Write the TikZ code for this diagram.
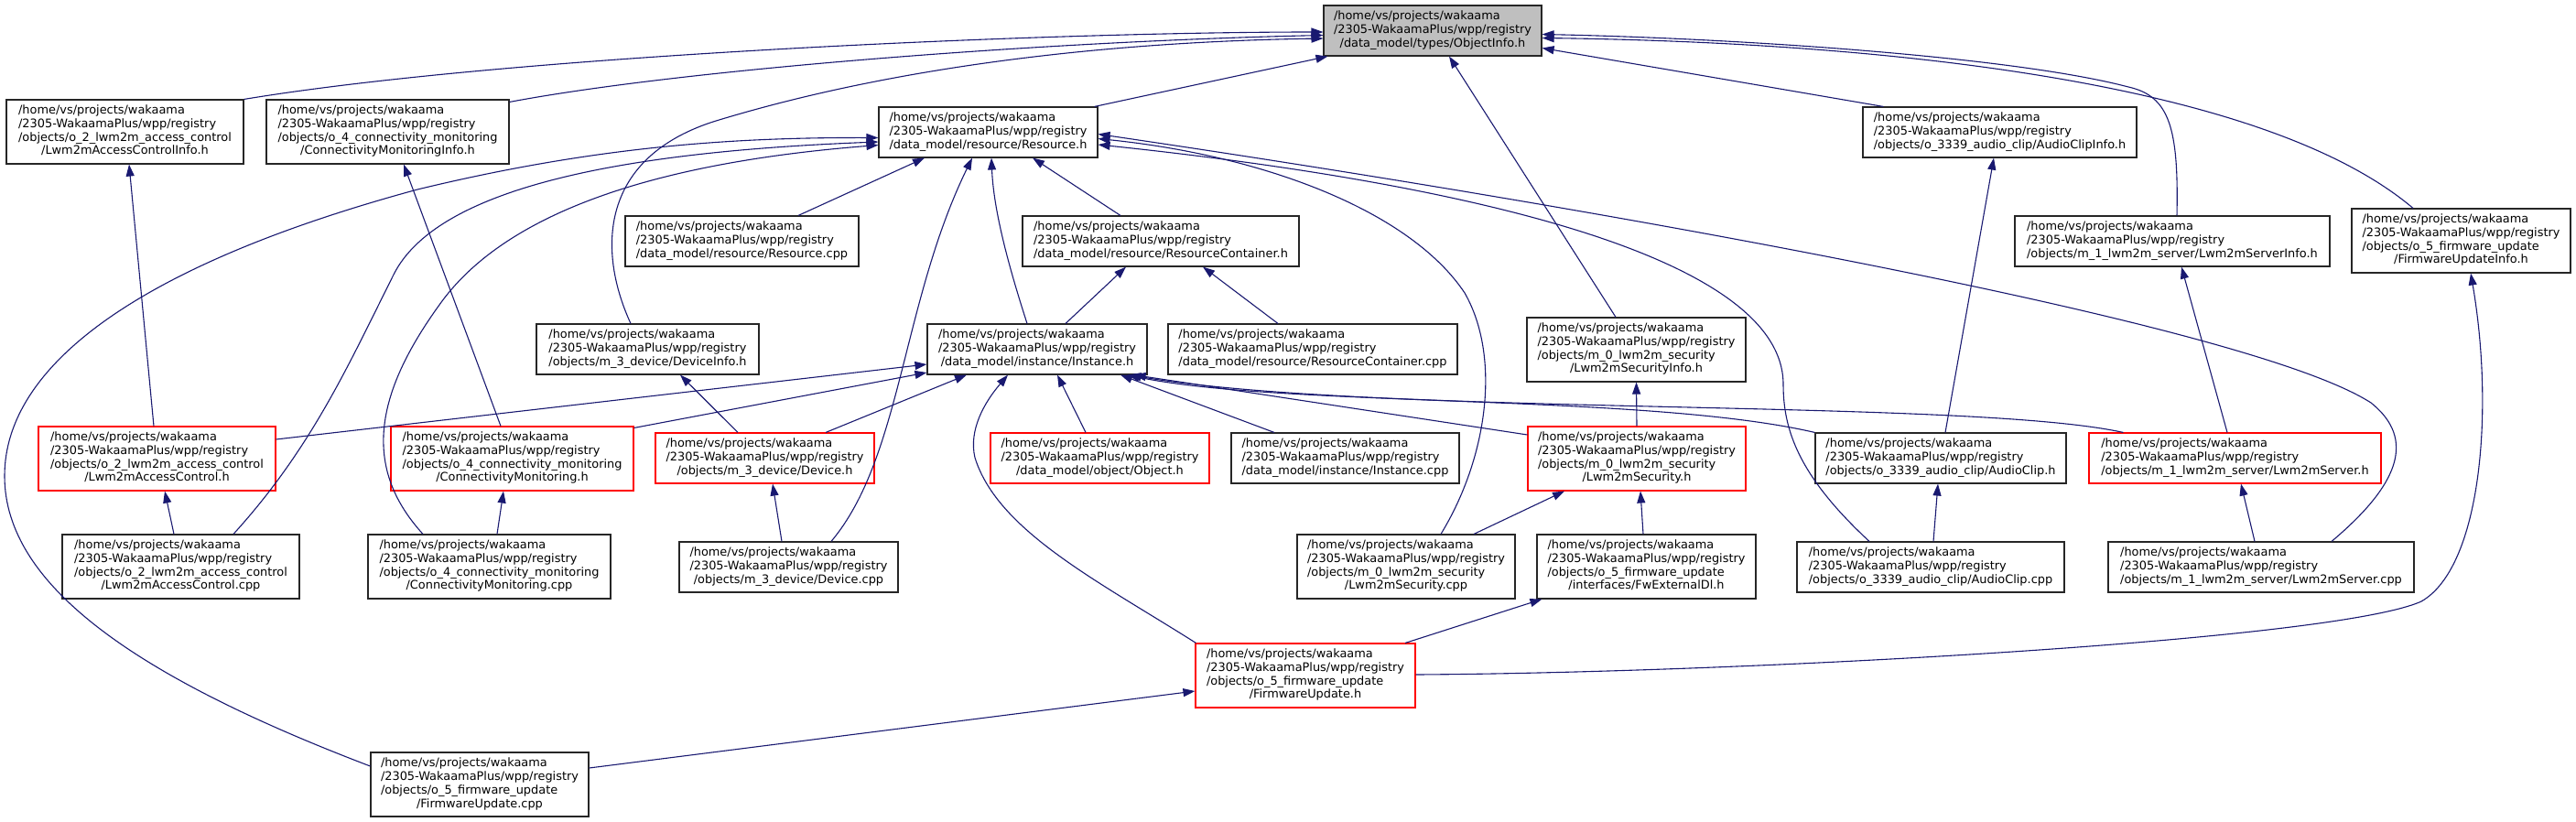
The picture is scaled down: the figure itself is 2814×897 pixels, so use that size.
\documentclass[tikz,border=0pt]{standalone}
\usepackage{fontspec}
\setmainfont{DejaVu Sans}
\usepackage{tikz}
\usetikzlibrary{arrows.meta}
\definecolor{edgeblue}{HTML}{191970}
\definecolor{boxgray}{HTML}{BFBFBF}
\newcommand{\fpath}[1]{\begin{tabular}{@{}l@{}}/home/vs/projects/wakaama\\/2305-WakaamaPlus/wpp/registry\\\multicolumn{1}{@{}c@{}}{#1}\end{tabular}}
\newcommand{\fpathx}[2]{\begin{tabular}{@{}l@{}}/home/vs/projects/wakaama\\/2305-WakaamaPlus/wpp/registry\\#1\\\multicolumn{1}{@{}c@{}}{#2}\end{tabular}}

\begin{document}
\begin{tikzpicture}[x=1pt, y=-1pt,
  file/.style={draw=black!85, fill=white, line width=1.1pt, inner sep=0pt,
               minimum height=55pt, font=\fontsize{12.9}{14.7}\selectfont},
  tall/.style={minimum height=70pt},
  inred/.style={file, draw=red},
  focus/.style={file, fill=boxgray},
  incl/.style={-{Triangle[length=13pt, width=9pt]}, edgeblue, line width=1.1pt}
]
\useasboundingbox (0,0) rectangle (2814,897);

\node[focus, minimum width=238pt] (objinfo) at (1565,33.5) {\fpath{/data\_model/types/ObjectInfo.h}};
\node[file, tall, minimum width=259pt] (accinfo) at (136.5,144) {\fpathx{/objects/o\_2\_lwm2m\_access\_control}{/Lwm2mAccessControlInfo.h}};
\node[file, tall, minimum width=265pt] (conninfo) at (423.5,144) {\fpathx{/objects/o\_4\_connectivity\_monitoring}{/ConnectivityMonitoringInfo.h}};
\node[file, minimum width=239pt] (res) at (1079.5,144.5) {\fpath{/data\_model/resource/Resource.h}};
\node[file, minimum width=299pt] (audioinfo) at (2184.5,144.5) {\fpath{/objects/o\_3339\_audio\_clip/AudioClipInfo.h}};
\node[file, minimum width=255pt] (rescpp) at (810.5,263.5) {\fpath{/data\_model/resource/Resource.cpp}};
\node[file, minimum width=302pt] (rescont) at (1268,263.5) {\fpath{/data\_model/resource/ResourceContainer.h}};
\node[file, minimum width=344pt] (srvinfo) at (2373,263.5) {\fpath{/objects/m\_1\_lwm2m\_server/Lwm2mServerInfo.h}};
\node[file, tall, minimum width=239pt] (fwinfo) at (2688.5,263) {\fpathx{/objects/o\_5\_firmware\_update}{/FirmwareUpdateInfo.h}};
\node[file, minimum width=243pt] (devinfo) at (707.5,381.5) {\fpath{/objects/m\_3\_device/DeviceInfo.h}};
\node[file, minimum width=240pt] (inst) at (1133,381.5) {\fpath{/data\_model/instance/Instance.h}};
\node[file, minimum width=316pt] (rescontcpp) at (1434,381.5) {\fpath{/data\_model/resource/ResourceContainer.cpp}};
\node[file, tall, minimum width=239pt] (secinfo) at (1787.5,382) {\fpathx{/objects/m\_0\_lwm2m\_security}{/Lwm2mSecurityInfo.h}};
\node[inred, tall, minimum width=259pt] (acc) at (171.5,501) {\fpathx{/objects/o\_2\_lwm2m\_access\_control}{/Lwm2mAccessControl.h}};
\node[inred, tall, minimum width=265pt] (conn) at (559.5,501) {\fpathx{/objects/o\_4\_connectivity\_monitoring}{/ConnectivityMonitoring.h}};
\node[inred, minimum width=239pt] (dev) at (835.5,500.5) {\fpath{/objects/m\_3\_device/Device.h}};
\node[inred, minimum width=239pt] (obj) at (1201.5,500.5) {\fpath{/data\_model/object/Object.h}};
\node[file, minimum width=249pt] (instcpp) at (1469.5,500.5) {\fpath{/data\_model/instance/Instance.cpp}};
\node[inred, tall, minimum width=238pt] (sec) at (1788,501) {\fpathx{/objects/m\_0\_lwm2m\_security}{/Lwm2mSecurity.h}};
\node[file, minimum width=274pt] (audio) at (2120,500.5) {\fpath{/objects/o\_3339\_audio\_clip/AudioClip.h}};
\node[inred, minimum width=319pt] (srv) at (2441.5,500.5) {\fpath{/objects/m\_1\_lwm2m\_server/Lwm2mServer.h}};
\node[file, tall, minimum width=259pt] (acccpp) at (197.5,619) {\fpathx{/objects/o\_2\_lwm2m\_access\_control}{/Lwm2mAccessControl.cpp}};
\node[file, tall, minimum width=265pt] (conncpp) at (534.5,619) {\fpathx{/objects/o\_4\_connectivity\_monitoring}{/ConnectivityMonitoring.cpp}};
\node[file, minimum width=239pt] (devcpp) at (861.5,619.5) {\fpath{/objects/m\_3\_device/Device.cpp}};
\node[file, tall, minimum width=238pt] (seccpp) at (1536,619) {\fpathx{/objects/m\_0\_lwm2m\_security}{/Lwm2mSecurity.cpp}};
\node[file, tall, minimum width=239pt] (fwext) at (1798.5,619) {\fpathx{/objects/o\_5\_firmware\_update}{/interfaces/FwExternalDl.h}};
\node[file, minimum width=292pt] (audiocpp) at (2109,619.5) {\fpath{/objects/o\_3339\_audio\_clip/AudioClip.cpp}};
\node[file, minimum width=334pt] (srvcpp) at (2470,619.5) {\fpath{/objects/m\_1\_lwm2m\_server/Lwm2mServer.cpp}};
\node[inred, tall, minimum width=240pt] (fw) at (1426,738) {\fpathx{/objects/o\_5\_firmware\_update}{/FirmwareUpdate.h}};
\node[file, tall, minimum width=238pt] (fwcpp) at (524,857) {\fpathx{/objects/o\_5\_firmware\_update}{/FirmwareUpdate.cpp}};

% into ObjectInfo.h
\draw[incl] (accinfo.north east) .. controls (560,60) and (1150,35) .. ([yshift=-1.5pt]objinfo.west);
\draw[incl] ([yshift=-3pt]conninfo.north east) .. controls (750,75) and (1150,45) .. ([yshift=-5pt]objinfo.west);
\draw[incl] ([xshift=-18.5pt]devinfo.north) .. controls (655,280) and (650,175) .. (779,133) .. controls (1000,65) and (1250,45) .. ([yshift=-8.5pt]objinfo.west);
\draw[incl] ([xshift=-4pt]res.north east) -- ([xshift=5pt]objinfo.south west);
\draw[incl] ([xshift=-22.5pt]secinfo.north) -- ([xshift=18pt]objinfo.south);
\draw[incl] ([xshift=23pt]audioinfo.north west) -- ([yshift=-19pt]objinfo.east);
\draw[incl] ([xshift=5pt]srvinfo.north) .. controls (2380,140) and (2370,105) .. (2325,95) .. controls (2200,62) and (1900,42) .. ([yshift=-4pt]objinfo.east);
\draw[incl] ([xshift=-52.5pt]fwinfo.north) .. controls (2450,70) and (1950,45) .. ([yshift=-8pt]objinfo.east);

% into Resource.h
\draw[incl] ([xshift=61.5pt]rescpp.north) -- ([xshift=-69.5pt]res.south);
\draw[incl] ([xshift=-44pt]rescont.north) -- ([xshift=48.5pt]res.south);
\draw[incl] ([xshift=-11pt]inst.north) .. controls (1095,270) and (1085,220) .. ([xshift=3.5pt]res.south);
\draw[incl] ([xshift=46.5pt]devcpp.north) .. controls (985,500) and (985,330) .. ([xshift=-17.5pt]res.south);
\draw[incl] ([xshift=57.5pt]acccpp.north) .. controls (340,490) and (380,400) .. (430,300) .. controls (480,200) and (700,165) .. ([yshift=-10.5pt]res.west);
\draw[incl] ([xshift=-72.5pt]conncpp.north) .. controls (395,510) and (410,430) .. (480,333) .. controls (560,220) and (750,175) .. ([yshift=-14pt]res.west);
\draw[incl] ([yshift=20pt]fwcpp.west) .. controls (150,740) and (5,640) .. (5,520) .. controls (5,400) and (150,290) .. (456,207) .. controls (650,160) and (800,150) .. ([yshift=-6pt]res.west);
\draw[incl] ([xshift=38pt]seccpp.north) .. controls (1625,500) and (1640,390) .. (1600,320) .. controls (1540,230) and (1380,170) .. ([yshift=-7pt]res.east);
\draw[incl] ([xshift=-67pt]audiocpp.north) .. controls (1965,520) and (1948,470) .. (1948,420) .. controls (1948,280) and (1600,200) .. ([yshift=-13.5pt]res.east);
\draw[incl] ([xshift=77pt]srvcpp.north) .. controls (2620,530) and (2640,480) .. (2590,440) .. controls (2450,350) and (1700,220) .. ([yshift=-2pt]res.east);

% into ResourceContainer.h
\draw[incl] ([xshift=31pt]inst.north) -- ([xshift=-38pt]rescont.south);
\draw[incl] ([xshift=-38pt]rescontcpp.north) -- ([xshift=46pt]rescont.south);

% into Instance.h
\draw[incl] ([yshift=21pt]acc.east) -- ([yshift=-16.5pt]inst.west);
\draw[incl] ([yshift=-2pt]conn.north east) -- ([yshift=-25.5pt]inst.west);
\draw[incl] ([xshift=66.5pt]dev.north) -- ([xshift=-77pt]inst.south);
\draw[incl] ([xshift=-15.5pt]obj.north) -- ([xshift=22pt]inst.south);
\draw[incl] ([xshift=-77.5pt]instcpp.north) -- ([xshift=91pt]inst.south);
\draw[incl] ([yshift=26pt]sec.west) -- ([xshift=-15pt]inst.south east);
\draw[incl] (audio.north west) .. controls (1800,430) and (1400,445) .. ([xshift=-22pt]inst.south east);
\draw[incl] ([xshift=38pt]srv.north west) .. controls (2150,435) and (1500,455) .. ([xshift=-20pt]inst.south east);
\draw[incl] ([xshift=1pt]fw.north west) .. controls (1200,635) and (1090,580) .. (1065,500) .. controls (1058,470) and (1075,440) .. ([xshift=-32pt]inst.south);

% into the *Info.h headers
\draw[incl] ([xshift=-29.5pt]dev.north) -- ([xshift=35.5pt]devinfo.south);
\draw[incl] ([xshift=-3.5pt]acc.north) -- ([xshift=4.5pt]accinfo.south);
\draw[incl] ([xshift=-12.5pt]conn.north) -- ([xshift=17.5pt]conninfo.south);
\draw[incl] (sec.north) -- (secinfo.south);
\draw[incl] ([xshift=5pt]audio.north) -- ([xshift=-6.5pt]audioinfo.south);
\draw[incl] ([xshift=-8.5pt]srv.north) -- ([xshift=10pt]srvinfo.south);
\draw[incl] ([yshift=1pt]fw.east) .. controls (1900,735) and (2550,700) .. (2645,657) .. controls (2710,620) and (2725,450) .. ([xshift=10.5pt]fwinfo.south);

% sources into their headers
\draw[incl] ([xshift=-7.5pt]acccpp.north) -- ([xshift=8.5pt]acc.south);
\draw[incl] ([xshift=8.5pt]conncpp.north) -- ([xshift=-9.5pt]conn.south);
\draw[incl] ([xshift=-7.5pt]devcpp.north) -- ([xshift=8.5pt]dev.south);
\draw[incl] ([xshift=74pt]seccpp.north) -- ([xshift=-79pt]sec.south);
\draw[incl] ([xshift=-3.5pt]fwext.north) -- ([xshift=4pt]sec.south);
\draw[incl] ([xshift=3pt]audiocpp.north) -- ([xshift=-3pt]audio.south);
\draw[incl] ([xshift=-7pt]srvcpp.north) -- ([xshift=6.5pt]srv.south);
\draw[incl] ([xshift=109pt]fw.north) -- ([xshift=6pt]fwext.south west);
\draw[incl] ([yshift=18pt]fwcpp.east) -- ([yshift=-17pt]fw.west);
\end{tikzpicture}
\end{document}
